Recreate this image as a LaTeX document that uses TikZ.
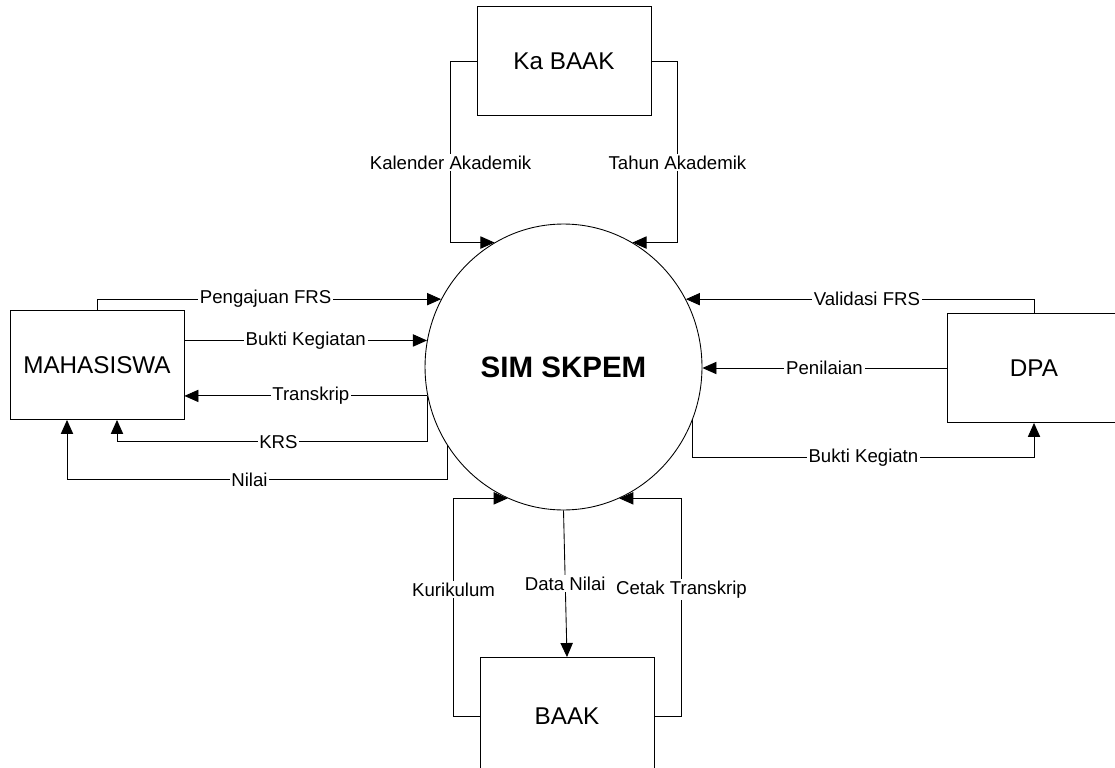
\documentclass[tikz,border=0pt]{standalone}
\usepackage{fontspec}
\setmainfont{Liberation Sans}
\usetikzlibrary{arrows.meta,shapes.geometric,calc}

\begin{document}
\begin{tikzpicture}[x=0.02cm,y=-0.02cm]

        \useasboundingbox (0,0) rectangle (1115,767);

        \begin{scope}[every node/.style={rectangle,draw,line width=0.5pt,minimum width=3.48cm,minimum height=2.18cm,font=\fontsize{13.8}{16}\selectfont}]
          \node (kabaak) at (564,61)   {Ka BAAK};
          \node (mhs)    at (97,365)   {MAHASISWA};
          \node (dpa)    at (1034,368) {DPA};
          \node[minimum height=2.34cm] (baak) at (567,716) {BAAK};
        \end{scope}

        \node[ellipse,draw,line width=0.5pt,minimum width=5.54cm,minimum height=5.72cm,inner sep=0pt,
              font=\bfseries\fontsize{16.8}{20}\selectfont] (sim) at (563.5,367) {SIM SKPEM};

        \begin{scope}[every node/.style={fill=white,inner sep=1pt,font=\fontsize{10.6}{12}\selectfont},
                      >={Triangle[length=8pt,width=7pt]}]

          \begin{scope}[every path/.style={draw,line width=0.5pt}]
            \path[->] (kabaak.west) -- ++(-26,0) |- node[pos=0.28] {Kalender Akademik} (sim.119);
            \path[->] (kabaak.east) -- ++(26,0) |- node[pos=0.28] {Tahun Akademik} (sim.61);
            \path[->] (mhs.north) |- node[pos=0.745] {Pengajuan FRS} (sim.151);
            \path[->] (sim.169 -| mhs.east) -- node {Bukti Kegiatan} (sim.169);
            \path[->] (sim.192) -- node[pos=0.48] {Transkrip} (sim.192 -| mhs.east);
            \path[->] (sim.192) -- ++(0,46) -| node[pos=0.24] {KRS} ($(mhs.south)+(20,0)$);
            \path[->] (sim.214) |- node[pos=0.76] {Nilai} ($(mhs.south)+(-30,60)$) -- ($(mhs.south)+(-30,0)$);
            \path[->] (dpa.north) |- node[pos=0.74] {Validasi FRS} (sim.29);
            \path[->] (dpa.west) -- node {Penilaian} (dpa.west -| sim.east);
            \path[->] (sim.338) |- node[pos=0.75] {Bukti Kegiatn} ($(dpa.south)+(0,35)$) -- (dpa.south);
            \path[->] (baak.west) -- ++(-26,0) |- node[pos=0.29] {Kurikulum} (sim.247);
            \path[->] (baak.east) -- ++(27,0) |- node[pos=0.29] {Cetak Transkrip} (sim.293);
            \path[->] (sim.south) -- node {Data Nilai} (baak.north);
          \end{scope}
        \end{scope}

      \end{tikzpicture}
\end{document}
